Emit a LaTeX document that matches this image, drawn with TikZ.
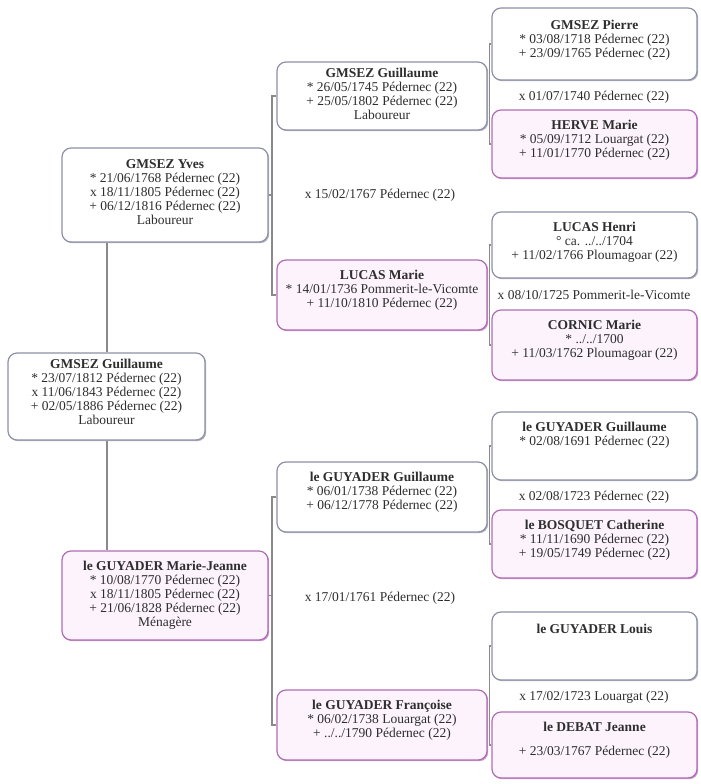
\documentclass[tikz,border=0pt]{standalone}
\usepackage{fontspec}
\setmainfont{Liberation Serif}
\usetikzlibrary{shadows}
\definecolor{manline}{HTML}{8E90A6}
\definecolor{womanline}{HTML}{B06CB4}
\definecolor{womanfill}{HTML}{FCF3FC}
\definecolor{inkgrey}{HTML}{2E2E2E}
\definecolor{linkgrey}{HTML}{8A8A8A}
\newcommand{\card}[3]{\parbox[c][#2pt][t]{#1pt}{\centering\vspace*{6pt}#3}}

\begin{document}
\begin{tikzpicture}[x=1pt,y=-1pt]
    \tikzstyle{every node}+=[inner sep=0pt, font=\fontsize{13.5}{14}\selectfont, text=inkgrey]
    \tikzstyle{manbox}=[draw=manline, line width=1.2pt, rounded corners=9pt, fill=white,
        drop shadow={shadow xshift=1.2pt, shadow yshift=-1.2pt, fill=manline, opacity=0.7}]
    \tikzstyle{womanbox}=[draw=womanline, line width=1.2pt, rounded corners=9pt, fill=womanfill,
        drop shadow={shadow xshift=1.2pt, shadow yshift=-1.2pt, fill=womanline, opacity=0.7}]
    \tikzstyle{link}=[draw=linkgrey, line width=1.5pt]
    \useasboundingbox (0,0) rectangle (701,784);
    % generation 1 and 2
    \node [manbox] (g1) at (106.5,396.5) {\card{197}{87}{\textbf{GMSEZ Guillaume}\\{*} 23/07/1812 Pédernec (22)\\x 11/06/1843 Pédernec (22)\\+ 02/05/1886 Pédernec (22)\\Laboureur}};
    \node [manbox] (yves) at (165,195) {\card{206}{94}{\vspace*{6pt}\textbf{GMSEZ Yves}\\{*} 21/06/1768 Pédernec (22)\\x 18/11/1805 Pédernec (22)\\+ 06/12/1816 Pédernec (22)\\Laboureur}};
    \node [womanbox] (mjeanne) at (165,595.5) {\card{206}{89}{\vspace*{4pt}\textbf{le GUYADER Marie-Jeanne}\\{*} 10/08/1770 Pédernec (22)\\x 18/11/1805 Pédernec (22)\\+ 21/06/1828 Pédernec (22)\\Ménagère}};
    % generation 3
    \node [manbox] (guil) at (382,96) {\card{210}{68}{\textbf{GMSEZ Guillaume}\\{*} 26/05/1745 Pédernec (22)\\+ 25/05/1802 Pédernec (22)\\Laboureur}};
    \node (wed1) at (380,195) {x 15/02/1767 Pédernec (22)};
    \node [womanbox] (lmarie) at (382,295) {\card{210}{70}{\vspace*{4pt}\textbf{LUCAS Marie}\\{*} 14/01/1736 Pommerit-le-Vicomte\\+ 11/10/1810 Pédernec (22)}};
    \node [manbox] (gguil) at (382,497) {\card{210}{70}{\vspace*{4pt}\textbf{le GUYADER Guillaume}\\{*} 06/01/1738 Pédernec (22)\\+ 06/12/1778 Pédernec (22)}};
    \node (wed2) at (380,598) {x 17/01/1761 Pédernec (22)};
    \node [womanbox] (gfranc) at (382,725) {\card{210}{70}{\vspace*{4pt}\textbf{le GUYADER Françoise}\\{*} 06/02/1738 Louargat (22)\\+ ../../1790 Pédernec (22)}};
    % generation 4
    \node [manbox] (pierre) at (594.5,44) {\card{205}{72}{\vspace*{6pt}\textbf{GMSEZ Pierre}\\{*} 03/08/1718 Pédernec (22)\\+ 23/09/1765 Pédernec (22)}};
    \node (wed3) at (594,97) {x 01/07/1740 Pédernec (22)};
    \node [womanbox] (hmarie) at (594.5,144) {\card{205}{68}{\vspace*{4pt}\textbf{HERVE Marie}\\{*} 05/09/1712 Louargat (22)\\+ 11/01/1770 Pédernec (22)}};
    \node [manbox] (henri) at (594.5,245) {\card{205}{66}{\vspace*{4pt}\textbf{LUCAS Henri}\\° ca. ../../1704\\+ 11/02/1766 Ploumagoar (22)}};
    \node (wed4) at (594,295) {x 08/10/1725 Pommerit-le-Vicomte};
    \node [womanbox] (cmarie) at (594.5,345) {\card{205}{70}{\vspace*{4pt}\textbf{CORNIC Marie}\\{*} ../../1700\\+ 11/03/1762 Ploumagoar (22)}};
    \node [manbox] (ggguil) at (594.5,446) {\card{205}{68}{\vspace*{4pt}\textbf{le GUYADER Guillaume}\\{*} 02/08/1691 Pédernec (22)}};
    \node (wed5) at (594,497) {x 02/08/1723 Pédernec (22)};
    \node [womanbox] (bcath) at (594.5,544) {\card{205}{68}{\vspace*{4pt}\textbf{le BOSQUET Catherine}\\{*} 11/11/1690 Pédernec (22)\\+ 19/05/1749 Pédernec (22)}};
    \node [manbox] (louis) at (594.5,646) {\card{205}{68}{\vspace*{6pt}\textbf{le GUYADER Louis}}};
    \node (wed6) at (594,697) {x 17/02/1723 Louargat (22)};
    \node [womanbox] (djeanne) at (594.5,745) {\card{205}{66}{\vspace*{4pt}\textbf{le DEBAT Jeanne}\\[10pt]+ 23/03/1767 Pédernec (22)}};
    % links
    \draw [link] (yves.south -| 107,0) -- (g1.north -| 107,0);
    \draw [link] (g1.south -| 107,0) -- (mjeanne.north -| 107,0);
    \coordinate (j1) at (272,195);
    \coordinate (j2) at (272,598);
    \draw [link] (guil.west) -| (j1) |- (lmarie.west);
    \draw [link] (yves.east) -- (j1);
    \draw [link] (gguil.west) -| (j2) |- (gfranc.west);
    \draw [link] (mjeanne.east) -- (mjeanne.east -| j2);
    \draw [link] (mjeanne.east -| j2) -- (j2);
    \coordinate (k1) at (489.5,96);
    \coordinate (k2) at (489.5,295);
    \coordinate (k3) at (489.5,497);
    \coordinate (k4) at (489.5,697);
    \draw [link] (pierre.west) -| (k1) |- (hmarie.west);
    \draw [link] (henri.west) -| (k2) |- (cmarie.west);
    \draw [link] (ggguil.west) -| (k3) |- (bcath.west);
    \draw [link] (louis.west) -| (k4) |- (djeanne.west);
\end{tikzpicture}
\end{document}
